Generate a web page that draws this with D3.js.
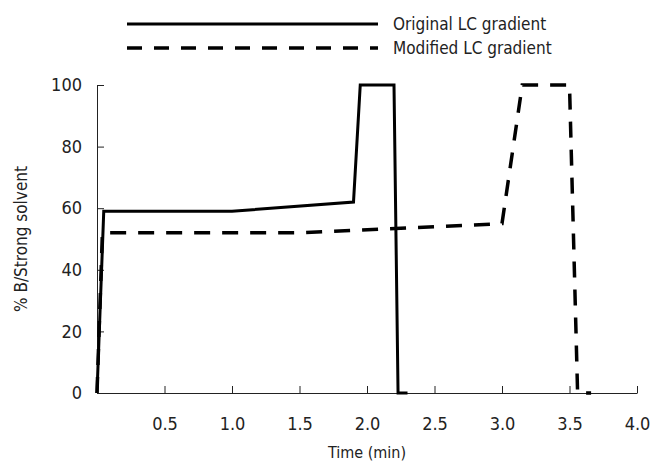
<!DOCTYPE html>
<html>
<head>
<meta charset="utf-8">
<script src="https://cdn.jsdelivr.net/npm/d3@7"></script>
<style>
    body { margin: 0; background: #fff; }
    svg text { font-family: "Liberation Sans Narrow", "DejaVu Sans Condensed", "Roboto", sans-serif; font-stretch: condensed; fill: #222; }
</style>
</head>
<body>
<div id="chart"></div>
<script>
// gradient programs, time in min and % B
const originalTime = [0, 0.05, 1.0, 1.9, 1.95, 2.2, 2.23, 2.3];
const originalB = [0, 59, 59, 62, 100, 100, 0, 0];
const modifiedTime = [0, 0.04, 1.5, 3.0, 3.15, 3.5, 3.56, 3.66];
const modifiedB = [0, 52, 52, 55, 100, 100, 0, 0];

const xTicks = [0.5, 1.0, 1.5, 2.0, 2.5, 3.0, 3.5, 4.0];
const yTicks = [0, 20, 40, 60, 80, 100];
const seriesNames = ["Original LC gradient", "Modified LC gradient"];

const width = 651;
const height = 465;
const margin = { left: 97, right: 14, top: 85, bottom: 72 };

const svg = d3.select("#chart")
    .append("svg")
    .attr("width", width)
    .attr("height", height);

const x = d3.scaleLinear().domain([0, 4]).range([margin.left, width - margin.right]);
const y = d3.scaleLinear().domain([0, 100]).range([height - margin.bottom, margin.top]);

// axes
const xAxis = svg.append("g")
    .attr("transform", `translate(0,${y(0)})`)
    .call(d3.axisBottom(x).tickValues(xTicks).tickSizeInner(-7).tickSizeOuter(0).tickPadding(24).tickFormat(d3.format(".1f")));
xAxis.select(".domain").attr("stroke", "#222");
xAxis.selectAll(".tick line").attr("stroke", "#222");
xAxis.selectAll("text").attr("font-size", 18).attr("fill", "#222");

const yAxis = svg.append("g")
    .attr("transform", `translate(${x(0)},0)`)
    .call(d3.axisLeft(y).tickValues(yTicks).tickSizeInner(-7).tickSizeOuter(0).tickPadding(15));
yAxis.select(".domain").attr("stroke", "#222");
yAxis.selectAll(".tick line").attr("stroke", "#222");
yAxis.selectAll("text").attr("font-size", 18).attr("fill", "#222");

svg.append("text")
    .attr("x", (x(0) + x(4)) / 2)
    .attr("y", 458)
    .attr("text-anchor", "middle")
    .attr("font-size", 16)
    .text("Time (min)");

svg.append("text")
    .attr("transform", `translate(27,${(y(0) + y(100)) / 2}) rotate(-90)`)
    .attr("text-anchor", "middle")
    .attr("font-size", 17)
    .text("% B/Strong solvent");

// lines
const line = d3.line().x(d => x(d[0])).y(d => y(d[1]));
const originalData = originalTime.map((t, i) => [t, originalB[i]]);
const modifiedData = modifiedTime.map((t, i) => [t, modifiedB[i]]);

svg.append("path")
    .datum(modifiedData)
    .attr("d", line)
    .attr("fill", "none")
    .attr("stroke", "#000")
    .attr("stroke-width", 3.5)
    .attr("stroke-dasharray", "16,12");

svg.append("path")
    .datum(originalData)
    .attr("d", line)
    .attr("fill", "none")
    .attr("stroke", "#000")
    .attr("stroke-width", 3);

// legend
const legend = svg.append("g");
const styles = [{ w: 3, dash: null }, { w: 3.5, dash: "15,12" }];
seriesNames.forEach((name, i) => {
    const ly = 24 + i * 24;
    legend.append("line")
        .attr("x1", 127).attr("x2", 378)
        .attr("y1", ly).attr("y2", ly)
        .attr("stroke", "#000")
        .attr("stroke-width", styles[i].w)
        .attr("stroke-dasharray", styles[i].dash);
    legend.append("text")
        .attr("x", 393)
        .attr("y", ly)
        .attr("dy", "0.35em")
        .attr("font-size", 17)
        .text(name);
});
</script>
</body>
</html>
